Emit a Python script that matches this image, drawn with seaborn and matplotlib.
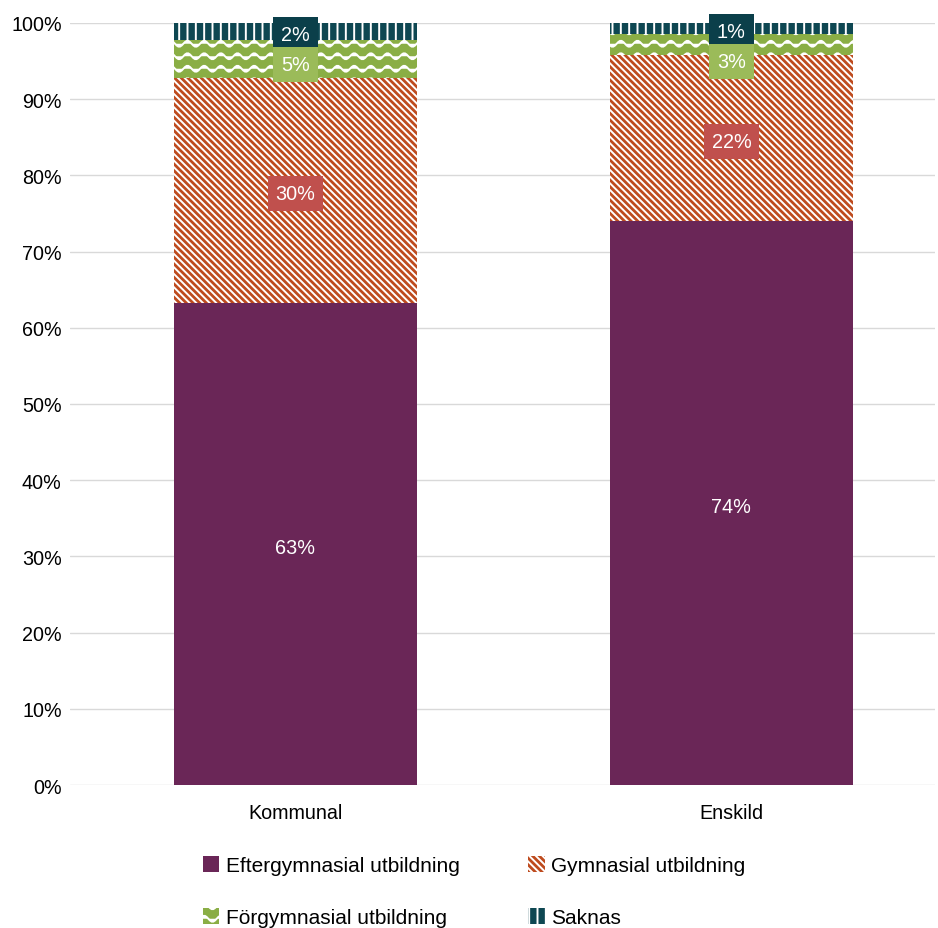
import pandas as pd
import numpy as np
import matplotlib
matplotlib.use("Agg")
import matplotlib.pyplot as plt
from matplotlib.patches import Patch
from matplotlib import hatch as mhatch
from matplotlib.path import Path
import warnings
import seaborn as sns

warnings.filterwarnings("ignore")

# values (share of staff, %)
categories = ["Kommunal", "Enskild"]
series = ["Eftergymnasial utbildning", "Gymnasial utbildning", "Förgymnasial utbildning", "Saknas"]
eftergymnasial = [63.2, 74.0]
gymnasial = [29.6, 21.8]
forgymnasial = [5.0, 2.8]
saknas = [2.2, 1.4]

colors = ["#6A2657", "#BE4B1E", "#8AAE45", "#0E4752"]
hatches = [None, "\\\\\\\\\\", "~", "||"]
box_colors = [None, "#C0504D", "#9BBB59", "#0B3F4A"]


# wavy hatch, like the Excel "wave" pattern
class WaveHatch(mhatch.HatchPatternBase):
    def __init__(self, hatch, density):
        self.num_lines = 8 if "~" in hatch else 0
        self.n = 61
        self.num_vertices = self.num_lines * self.n

    def set_vertices_and_codes(self, vertices, codes):
        xs = np.linspace(0, 1, self.n)
        for i in range(self.num_lines):
            y0 = (i + 0.5) / self.num_lines
            sl = slice(i * self.n, (i + 1) * self.n)
            vertices[sl, 0] = xs
            vertices[sl, 1] = y0 + 0.03 * np.sin(2 * np.pi * 6 * xs)
            codes[sl] = Path.LINETO
            codes[i * self.n] = Path.MOVETO


mhatch._hatch_types.append(WaveHatch)

sns.set_style("white")
plt.rcParams["font.family"] = ["Liberation Sans", "DejaVu Sans"]
plt.rcParams["hatch.linewidth"] = 1.4
plt.rcParams["text.color"] = "black"

df = pd.DataFrame({"Kategori": categories,
                   series[0]: eftergymnasial, series[1]: gymnasial,
                   series[2]: forgymnasial, series[3]: saknas})
cum = df[series].cumsum(axis=1)

fig = plt.figure(figsize=(9.38, 9.29), dpi=100)
ax = fig.add_axes([70 / 938, 1 - 786 / 929, 865 / 938, 762 / 929])

# draw cumulative totals top-down so lower layers cover upper ones
for i in range(len(series) - 1, -1, -1):
    d = pd.DataFrame({"Kategori": categories, "v": cum[series[i]].values})
    sns.barplot(data=d, x="Kategori", y="v", ax=ax, color=colors[i], width=0.557,
                saturation=1, edgecolor="white" if hatches[i] else colors[i],
                linewidth=0, hatch=hatches[i], zorder=2)

# data labels
for j in range(len(categories)):
    last_y = None
    for i in range(len(series) - 1, -1, -1):
        val = df[series[i]].iloc[j]
        top = cum[series[i]].iloc[j]
        y = top - val / 2
        if last_y is not None and last_y - y < 3.9:
            y = last_y - 3.9
        last_y = y
        bbox = None
        if box_colors[i]:
            bbox = dict(boxstyle="square,pad=0.4", fc=box_colors[i], ec="none")
        ax.text(j, y - 0.4, f"{val:.0f}%", ha="center", va="center", color="white",
                fontsize=14.3, bbox=bbox, zorder=5)

ax.set_ylim(0, 100)
ax.set_xlim(-0.517, 1.467)
ax.set_yticks(np.arange(0, 101, 10))
ax.set_yticklabels([f"{t}%" for t in range(0, 101, 10)])
ax.yaxis.grid(True, color="#D9D9D9", linewidth=1, zorder=0)
ax.set_axisbelow(True)
ax.set_xlabel("")
ax.set_ylabel("")
for s in ax.spines.values():
    s.set_visible(False)
ax.tick_params(axis="both", length=0, labelsize=14.2, colors="black")
ax.tick_params(axis="x", pad=13)
ax.tick_params(axis="y", pad=6)

handles = [Patch(facecolor=colors[i], edgecolor="white" if hatches[i] else colors[i],
                 hatch=hatches[i], linewidth=0, label=series[i]) for i in range(len(series))]
# matplotlib fills legend column-wise; reorder so it reads row-wise
order = [0, 2, 1, 3]
fig.legend(handles=[handles[k] for k in order], ncol=2, loc="upper left",
           bbox_to_anchor=(184 / 938, 1 - 838 / 929), frameon=False, fontsize=15,
           handlelength=0.8, handleheight=0.8, handletextpad=0.3,
           labelspacing=1.6, columnspacing=3.3, labelcolor="black")

fig.savefig("out.png", dpi=100)
